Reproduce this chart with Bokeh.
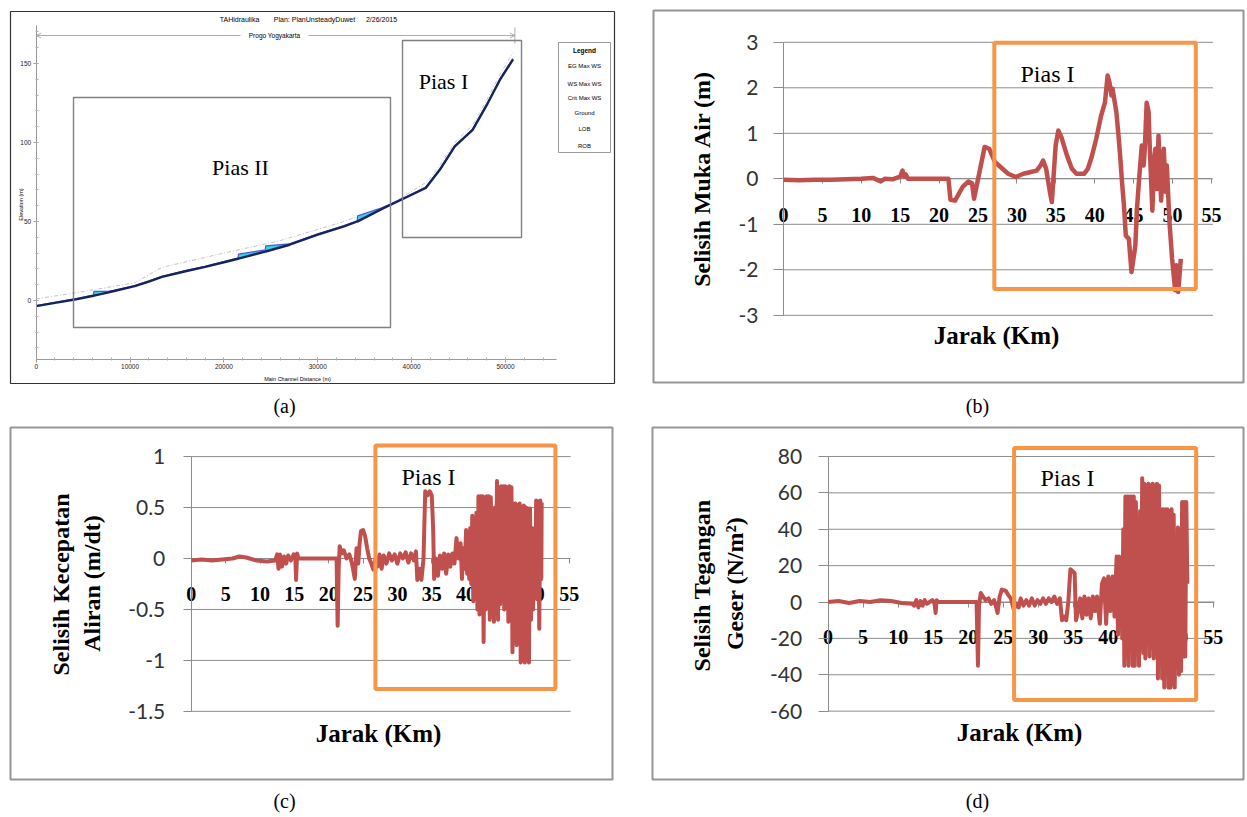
from bokeh.plotting import figure
from bokeh.models import (Range1d, LinearAxis, FixedTicker, SingleIntervalTicker,
                          BoxAnnotation, Label, Arrow, OpenHead)
from bokeh.layouts import column, row
from bokeh.embed import file_html
from bokeh.resources import INLINE

# ---------------- data ----------------
# (a) HEC-RAS long profile (distance m, elevation m)
a_dist = [0, 2000, 4100, 6100, 6150, 7600, 8300, 10500, 12000, 13400,
          15900, 18000, 20000, 21500, 21550, 24400, 24450, 27000, 30000, 32800,
          34200, 34250, 37000, 39500, 41500, 43000, 44600, 46500, 48100, 49400, 50800]
a_ground = [-3.6, -1.5, 0.6, 3.0, 3.1, 5.0, 6.0, 9.1, 12.0, 14.9,
            18.5, 21.3, 24.2, 26.4, 26.5, 30.9, 31.0, 35.3, 41.7, 46.9,
            50.0, 50.1, 58.5, 65.5, 71.2, 82.7, 97.5, 108.0, 124.8, 139.6, 152.6]
a_ws = [-3.2, -1.1, 1.0, 3.4, 5.8, 5.8, 6.4, 9.5, 12.4, 15.3,
        18.9, 21.7, 24.6, 26.8, 29.3, 32.0, 34.6, 35.9, 42.2, 47.4,
        50.5, 53.6, 59.0, 66.0, 71.8, 83.2, 98.0, 108.5, 125.3, 140.1, 153.1]
eg_dist = [0, 4100, 10500, 13400, 20000, 26000, 32800, 38000, 41700, 43000,
           44600, 46500, 48100, 49400, 50800]
eg_elev = [1.0, 4.8, 11.2, 21.0, 30.0, 37.9, 50.0, 61.7, 75.4, 85.5,
           100.0, 111.0, 128.0, 143.0, 157.0]
a_xticks = [0, 10000, 20000, 30000, 40000, 50000]
a_xlabels = ["0", "10000", "20000", "30000", "40000", "50000"]
a_yticks = [0, 50, 100, 150]
a_ylabels = ["0", "50", "100", "150"]
a_pias2 = (3974, 37748, -17.1, 128.5)     # left, right, bottom, top
a_pias1 = (39027, 51705, 39.9, 164.6)

# (b) Selisih Muka Air (m)
b_km = [0, 2, 4, 6, 8, 10, 11.5, 12.5, 13, 14,
        15, 15.3, 15.5, 15.7, 16, 18, 20, 21.2, 21.46, 22.05,
        23.02, 23.76, 24.24, 24.49, 25.85, 26.44, 27.17, 28.15, 28.88, 29.85,
        30.83, 31.8, 32.54, 33.02, 33.37, 33.76, 34.24, 34.49, 34.98, 35.32,
        35.71, 36.44, 37.07, 37.66, 38.63, 39.12, 39.61, 40.2, 40.83, 41.32,
        41.66, 41.9, 42.15, 42.29, 42.78, 43.02, 43.27, 43.51, 43.76, 44.0,
        44.39, 44.73, 44.98, 45.22, 45.46, 45.71, 46.05, 46.29, 46.44, 46.68,
        46.93, 47.07, 47.41, 47.66, 47.8, 48.0, 48.2, 48.39, 48.54, 48.88,
        49.12, 49.27, 49.61, 49.95, 50.34, 50.49, 50.73, 51.07]
b_dh = [-0.02, -0.03, -0.02, -0.02, -0.01, 0.0, 0.02, -0.06, 0.0, -0.01,
        0.05, 0.18, 0.05, 0.1, 0.0, 0.0, 0.0, 0.0, -0.46, -0.48,
        -0.18, -0.06, -0.1, -0.44, 0.70, 0.66, 0.37, 0.22, 0.11, 0.04,
        0.11, 0.15, 0.18, 0.29, 0.40, 0.22, -0.29, -0.51, 0.73, 1.06,
        0.92, 0.51, 0.22, 0.11, 0.11, 0.22, 0.48, 0.88, 1.39, 1.68,
        2.27, 2.12, 1.83, 1.98, 1.47, 1.03, 0.51, -0.07, -0.59, -1.25,
        -1.32, -2.05, -1.76, -1.47, -0.59, 0.0, 0.73, 0.29, 0.66, 1.67,
        1.47, 0.73, -0.70, 0.44, 0.66, -0.22, 0.95, 0.15, -0.48, 0.66,
        -0.29, 0.29, -0.95, -1.76, -2.45, -1.90, -2.49, -1.76]
b_yticks = [-3, -2, -1, 0, 1, 2, 3]
b_ylabels = ["-3", "-2", "-1", "0", "1", "2", "3"]
b_pias1 = (27.1, 53.0, -2.42, 2.99)

# (c) Selisih Kecepatan Aliran (m/dt)
c_km = [0, 1.5, 3, 4.5, 6, 7, 8, 9.5, 11, 12.2,
        12.5, 12.7, 12.9, 13.2, 13.5, 13.8, 14.1, 14.5, 14.9, 15.15,
        15.25, 15.4, 15.6, 16.5, 18, 20, 21.15, 21.3, 21.45, 21.6,
        21.9, 22.2, 22.6, 23.0, 23.4, 23.8, 24.05, 24.3, 24.5, 24.7,
        25.0, 25.3, 25.6, 25.9, 26.2, 26.5, 26.8, 27.1, 27.4, 27.7,
        28.0, 28.4, 28.8, 29.2, 29.6, 30.0, 30.4, 30.8, 31.2, 31.6,
        32.0, 32.4, 32.7, 32.9, 33.2, 33.5, 33.8, 34.05, 34.4, 34.7,
        35.0, 35.2, 35.35, 35.6, 35.9, 36.2, 36.5, 36.8, 37.1, 37.4,
        37.7, 38.0, 38.3, 38.6, 38.9, 39.2,
        39.4, 39.6, 39.8, 40.0, 40.15, 40.3, 40.45, 40.6, 40.75, 40.9,
        41.05, 41.2, 41.35, 41.5, 41.65, 41.8, 41.95, 42.1, 42.25, 42.4,
        42.55, 42.7, 42.85, 43.0, 43.15, 43.3, 43.45, 43.6, 43.75, 43.9,
        44.05, 44.2, 44.35, 44.5, 44.65, 44.8, 44.95, 45.1, 45.25, 45.4,
        45.55, 45.7, 45.85, 46.0, 46.15, 46.3, 46.45, 46.6, 46.75, 46.9,
        47.05, 47.2, 47.35, 47.5, 47.65, 47.8, 47.95, 48.1, 48.25, 48.4,
        48.55, 48.7, 48.85, 49.0, 49.15, 49.3, 49.45, 49.6, 49.75, 49.9,
        50.05, 50.2, 50.35, 50.5, 50.65, 50.8, 50.95, 51.0]
c_dv = [-0.02, -0.01, -0.02, -0.01, 0.0, 0.02, 0.01, -0.02, -0.03, -0.02,
        0.04, -0.1, 0.04, -0.08, 0.02, -0.05, 0.03, -0.02, 0.04, 0.0,
        -0.21, 0.05, 0.0, 0.0, 0.0, 0.0, 0.0, -0.66, -0.1, 0.12,
        0.05, 0.08, 0.0, 0.04, -0.05, -0.2, 0.1, -0.05, 0.15, 0.27,
        0.28, 0.22, 0.1, 0.0, -0.05, -0.11, 0.0, -0.08, 0.04, -0.1,
        0.03, -0.05, 0.05, -0.02, 0.04, -0.05, 0.05, 0.0, 0.06, -0.04,
        0.05, -0.02, 0.07, -0.21, -0.1, -0.21, 0.0, 0.66, 0.62, 0.66,
        0.62, 0.3, -0.2, 0.0, -0.17, 0.03, -0.1, 0.05, -0.15, 0.04,
        -0.08, 0.05, -0.05, 0.2, 0.0, 0.15,
        -0.2, 0.1, -0.1, 0.28, -0.15, 0.25, -0.2, 0.3, -0.25, 0.42,
        -0.42, 0.4, -0.3, 0.45, -0.5, 0.61, -0.55, 0.61, -0.45, 0.61,
        -0.82, 0.6, -0.5, 0.61, -0.45, 0.61, -0.6, 0.6, -0.4, 0.2,
        -0.62, 0.5, -0.3, 0.76, -0.6, 0.7, -0.45, 0.71, -0.3, 0.71,
        -0.5, 0.71, -0.4, 0.7, -0.62, 0.71, -0.5, 0.7, -0.92, 0.54,
        -0.7, 0.54, -0.85, 0.52, -0.75, 0.54, -1.02, 0.5, -1.0, 0.52,
        -1.02, 0.5, -1.0, 0.49, -1.02, 0.49, -0.6, 0.3, -0.5, 0.0,
        -0.3, 0.57, -0.4, 0.56, -0.69, 0.57, -0.2, 0.55]
c_yticks = [-1.5, -1, -0.5, 0, 0.5, 1]
c_ylabels = ["-1.5", "-1", "-0.5", "0", "0.5", "1"]
c_pias1 = (26.8, 53.0, -1.281, 1.109)

# (d) Selisih Tegangan Geser (N/m2)
d_km = [0, 1.5, 3, 4.5, 6, 7.5, 9, 10.5, 12, 12.3,
        12.6, 12.9, 13.2, 13.5, 13.8, 14.1, 14.5, 14.9, 15.2, 15.35,
        15.5, 15.7, 16.5, 18, 20, 21.2, 21.4, 21.55, 21.8, 22.1,
        22.5, 22.9, 23.3, 23.7, 24.0, 24.2, 24.5, 24.8, 25.1, 25.4,
        25.7, 26.1, 26.5, 26.9, 27.2, 27.5, 27.9, 28.3, 28.7, 29.1,
        29.5, 29.9, 30.3, 30.7, 31.1, 31.5, 31.9, 32.3, 32.7, 33.1,
        33.4, 33.7, 34.0, 34.3, 34.6, 34.9, 35.2, 35.4, 35.7, 36.0,
        36.3, 36.6, 36.9, 37.2, 37.5, 37.8, 38.1, 38.4, 38.8, 39.1,
        39.4, 39.7, 40.0, 40.3, 40.6, 40.9, 41.2,
        41.4, 41.55, 41.7, 41.85, 42.0, 42.15, 42.3, 42.45, 42.6, 42.75,
        42.9, 43.05, 43.2, 43.35, 43.5, 43.65, 43.8, 43.95, 44.1, 44.25,
        44.4, 44.55, 44.7, 44.85, 45.0, 45.15, 45.3, 45.45, 45.6, 45.75,
        45.9, 46.05, 46.2, 46.35, 46.5, 46.65, 46.8, 46.95, 47.1, 47.25,
        47.4, 47.55, 47.7, 47.85, 48.0, 48.15, 48.3, 48.45, 48.6, 48.75,
        48.9, 49.05, 49.2, 49.35, 49.5, 49.65, 49.8, 49.95, 50.1, 50.25,
        50.4, 50.55, 50.7, 50.85, 51.0, 51.15, 51.3]
d_dtau = [0, 0.5, -0.5, 0.5, 0, 1, 0.5, -0.5, -1, -2,
          1, -3, 0.5, -2, 1, -1, 0, 1, -1, -6,
          1, 0, 0, 0, 0, 0, -35, -2, 5, 3,
          1, 2, -1, 1, -3, -6, 3, 6.8, 6.5, 6,
          4, 2, -4, -1, -3, 2, -2, 1, -2, 2,
          -2, 1, -1, 2, -1, 2, 0, 3, -1, 2,
          -10, -8, -10, 0, 18, 17, 16, -10, -5, 2,
          -9, 3, -7, 2, -9, 3, -5, 3, -12, 10,
          13, -12, 14, -5, 14, -8, 25,
          -18, 25, -10, 20, -20, 40, -35, 58, -30, 58,
          -35, 58, -25, 58, -35, 58, -35, 55, -20, 30,
          -35, 50, -25, 68, -28, 65, -31, 64, -20, 65,
          -30, 64, -25, 65, -31, 64, -28, 65, -42, 64,
          -35, 51, -42, 51, -47, 51, -40, 51, -47, 50,
          -47, 51, -45, 48, -47, 30, -35, 41, -40, 20,
          -38, 55, -30, 55, -30, 55, 10]
d_yticks = [-60, -40, -20, 0, 20, 40, 60, 80]
d_ylabels = ["-60", "-40", "-20", "0", "20", "40", "60", "80"]
d_pias1 = (26.56, 52.56, -53.9, 84.6)

km_ticks = [0, 5, 10, 15, 20, 25, 30, 35, 40, 45, 50, 55]
km_labels = ["0", "5", "10", "15", "20", "25", "30", "35", "40", "45", "50", "55"]

# ---------------- styling ----------------
GRID = "#8c8c8c"
RED = "#C0504D"
ORANGE = "#F79646"
SERIF = "Liberation Serif"
SANS = "Liberation Sans"


# reference-page pixel -> data conversions (used for ranges and text placement)
def PA(px, py):
    return (px - 35.7) / 0.009386, (300.0 - py) / 1.58


def PB(px, py):
    return (px - 783.0) / 7.78, (178.3 - py) / 45.5


def PC(px, py):
    return (px - 190.8) / 6.87, (558.0 - py) / 101.9


def PD(px, py):
    return (px - 827.6) / 7.003, (601.5 - py) / 1.819


def box(p, conv, l, t, r, b, color, width, level="annotation", fill=None):
    x0, y0 = conv(l, b)
    x1, y1 = conv(r, t)
    p.add_layout(BoxAnnotation(left=x0, right=x1, bottom=y0, top=y1,
                               fill_color=fill, fill_alpha=1 if fill else 0,
                               line_color=color, line_alpha=1, line_width=width, level=level))


def make_panel(fx, fy, fw, fh, conv, border, bcolor, bwidth):
    xs = conv(fx, 0)[0]
    xe = conv(fx + fw, 0)[0]
    ys = conv(0, fy + fh)[1]
    ye = conv(0, fy)[1]
    p = figure(width=fw, height=fh, x_range=Range1d(xs, xe), y_range=Range1d(ys, ye),
               x_axis_type=None, y_axis_type=None, toolbar_location=None,
               output_backend="svg", title=None,
               min_border_left=0, min_border_right=0, min_border_top=0, min_border_bottom=0)
    p.outline_line_color = None
    p.background_fill_color = "white"
    p.border_fill_color = "white"
    box(p, conv, border[0], border[1], border[2], border[3], bcolor, bwidth, level="underlay")
    return p


def text(p, conv, px, py, t, size, font=SERIF, style="normal", angle=0,
         color="black", align="center"):
    x, y = conv(px, py)
    p.add_layout(Label(x=x, y=y, text=t, text_font=font, text_font_size=f"{size}px",
                       text_font_style=style, text_align=align, text_baseline="middle",
                       angle=angle, angle_units="deg", text_color=color))


def excel_panel(p, conv, km, vals, yticks, ylabels, ytick_out, ystd, xstd, pias, lw,
                pias_px, ytitles, xtitle_px, caption, cap_px):
    p.segment(x0=[0] * len(yticks), x1=[55.2] * len(yticks), y0=yticks, y1=yticks,
              line_color=GRID, line_width=1, level="underlay")
    yax = LinearAxis(fixed_location=0, bounds=(min(yticks), max(yticks)),
                     ticker=FixedTicker(ticks=yticks),
                     major_label_overrides={t: l for t, l in zip(yticks, ylabels)})
    yax.axis_line_color = GRID
    yax.major_tick_line_color = GRID
    yax.major_tick_out = ytick_out
    yax.major_tick_in = 0
    yax.minor_tick_line_color = None
    yax.major_label_text_font = "Lato"
    yax.major_label_text_font_size = "21px"
    yax.major_label_text_color = "#333333"
    yax.major_label_standoff = ystd
    p.add_layout(yax, "left")
    xax = LinearAxis(fixed_location=0, bounds=(0, 55), ticker=FixedTicker(ticks=km_ticks),
                     major_label_overrides={t: l for t, l in zip(km_ticks, km_labels)})
    xax.axis_line_color = GRID
    xax.major_tick_line_color = GRID
    xax.major_tick_out = 5
    xax.major_tick_in = 0
    xax.minor_tick_line_color = None
    xax.major_label_text_font = SERIF
    xax.major_label_text_font_style = "bold"
    xax.major_label_text_font_size = "20px"
    xax.major_label_text_color = "black"
    xax.major_label_standoff = xstd
    p.add_layout(xax, "below")
    p.line(km, vals, line_color=RED, line_width=lw, line_join="round", level="annotation")
    p.add_layout(BoxAnnotation(left=pias[0], right=pias[1], bottom=pias[2], top=pias[3],
                               fill_color=None, fill_alpha=0, line_color=ORANGE,
                               line_alpha=1, line_width=4, level="overlay"))
    text(p, conv, pias_px[0], pias_px[1], "Pias I", 24)
    for (tx, ty, t) in ytitles:
        text(p, conv, tx, ty, t, 24, style="bold", angle=90)
    text(p, conv, xtitle_px[0], xtitle_px[1], "Jarak (Km)", 25, style="bold")
    text(p, conv, cap_px[0], cap_px[1], caption, 20)


# ---------------- panel (a) ----------------
pa = make_panel(0, 0, 620, 420, PA, (10, 11, 614, 383), "#333333", 1.2)
pa.varea(x=a_dist, y1=a_ground, y2=a_ws, fill_color="#35d4e6")
pa.line(eg_dist, eg_elev, line_color="#c4c4c4", line_width=1, line_dash="4 2 1 2")
pa.line(a_dist, a_ws, line_color="#4a5ad6", line_width=1.2)
pa.line(a_dist, a_ground, line_color="#16245e", line_width=2.4)

ax_y = LinearAxis(fixed_location=0, bounds=(-37.3, 174),
                  ticker=SingleIntervalTicker(interval=50, num_minor_ticks=5),
                  major_label_overrides={t: l for t, l in zip(a_yticks, a_ylabels)})
ax_x = LinearAxis(fixed_location=-37.3, bounds=(0, 55450),
                  ticker=SingleIntervalTicker(interval=10000, num_minor_ticks=5),
                  major_label_overrides={t: l for t, l in zip(a_xticks, a_xlabels)})
for ax in (ax_y, ax_x):
    ax.axis_line_color = "#9a9a9a"
    ax.major_tick_line_color = "#9a9a9a"
    ax.minor_tick_line_color = "#b0b0b0"
    ax.major_tick_in = 2
    ax.major_tick_out = 3
    ax.minor_tick_in = 2
    ax.minor_tick_out = 1
    ax.major_label_text_font = SANS
    ax.major_label_text_font_size = "6.5px"
    ax.major_label_text_color = "#222222"
    ax.major_label_standoff = 2
pa.add_layout(ax_y, "left")
pa.add_layout(ax_x, "below")

for bx in (a_pias2, a_pias1):
    pa.add_layout(BoxAnnotation(left=bx[0], right=bx[1], bottom=bx[2], top=bx[3],
                                fill_color=None, fill_alpha=0, line_color="#808080",
                                line_alpha=1, line_width=1.4))
text(pa, PA, 240, 167, "Pias II", 22)
text(pa, PA, 443, 81, "Pias I", 22)
text(pa, PA, 239, 19, "TAHidraulika", 7, font=SANS)
text(pa, PA, 314, 19, "Plan: PlanUnsteadyDuwet", 7, font=SANS)
text(pa, PA, 381, 19, "2/26/2015", 7, font=SANS)
# river reach arrow
yr = PA(0, 35)[1]
pa.add_layout(Arrow(end=OpenHead(size=5, line_color="#999999", line_width=0.8),
                    x_start=PA(240, 0)[0], y_start=yr, x_end=0, y_end=yr,
                    line_color="#999999", line_width=0.8))
pa.add_layout(Arrow(end=OpenHead(size=5, line_color="#999999", line_width=0.8),
                    x_start=PA(308, 0)[0], y_start=yr, x_end=51000, y_end=yr,
                    line_color="#999999", line_width=0.8))
pa.segment(x0=[51000], x1=[51000], y0=[PA(0, 27)[1]], y1=[PA(0, 43)[1]],
           line_color="#999999", line_width=0.8)
text(pa, PA, 274, 35, "Progo Yogyakarta", 6.5, font=SANS)
text(pa, PA, 297, 378, "Main Channel Distance (m)", 5.5, font=SANS)
text(pa, PA, 20, 204, "Elevation (m)", 5.5, font=SANS, angle=90)

# legend of (a)
box(pa, PA, 558, 42, 610, 152, "#9a9a9a", 1, fill="white")
text(pa, PA, 584, 50, "Legend", 6.5, font=SANS, style="bold")
samples = [(57, "#bdbdbd", 1, "2 2"), (74, "#5060d8", 1.6, "solid"),
           (105, "#444444", 2, "solid"), (120, "#d0d0d0", 1, "1 2"), (137, "#d0d0d0", 1, "1 2")]
for (sy, col, w, dash) in samples:
    sx0, syy = PA(561, sy)
    sx1, _ = PA(607, sy)
    pa.line([sx0, sx1], [syy, syy], line_color=col, line_width=w, line_dash=dash,
            level="annotation")
cx, cy = PA(584, 90)
pa.scatter([cx], [cy], size=2, color="red", level="annotation")
for (ty, t) in [(65, "EG Max WS"), (83, "WS Max WS"), (97, "Crit Max WS"),
                (112, "Ground"), (128, "LOB"), (145, "ROB")]:
    text(pa, PA, 584, ty, t, 6, font=SANS)
text(pa, PA, 284, 405, "(a)", 20)

# ---------------- panel (b) ----------------
pb = make_panel(620, 0, 625, 420, PB, (653, 10, 1243, 382), "#969696", 2)
excel_panel(pb, PB, b_km, b_dh, b_yticks, b_ylabels, 10, 15, 24, b_pias1, 4.5,
            (1047, 73), [(701, 178, "Selisih Muka Air (m)")], (996, 335), "(b)", (977, 405))

# ---------------- panel (c) ----------------
pc = make_panel(0, 420, 620, 395, PC, (10, 427, 612, 779), "#969696", 2)
excel_panel(pc, PC, c_km, c_dv, c_yticks, c_ylabels, 8, 18, 23, c_pias1, 4,
            (428, 476), [(60, 584, "Selisih Kecepatan"), (91, 583, "Aliran (m/dt)")],
            (378, 733), "(c)", (284, 800))

# ---------------- panel (d) ----------------
pd_ = make_panel(620, 420, 625, 395, PD, (652, 427, 1243, 779), "#969696", 2)
excel_panel(pd_, PD, d_km, d_dtau, d_yticks, d_ylabels, 10, 16, 23, d_pias1, 4,
            (1067, 477), [(701, 585, "Selisih Tegangan"), (734, 583, "Geser (N/m\u00b2)")],
            (1019, 732), "(d)", (977, 800))

layout = column(row(pa, pb), row(pc, pd_))
open("out.html", "w").write(file_html(layout, INLINE))
